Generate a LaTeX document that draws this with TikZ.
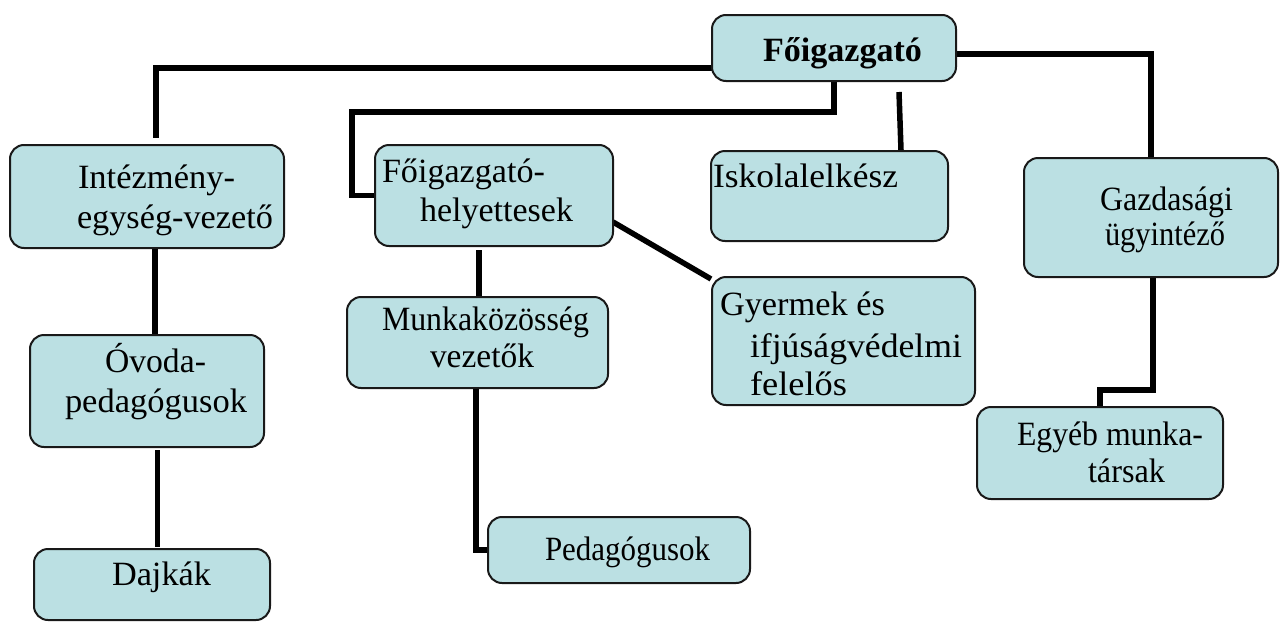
\documentclass[tikz,border=0pt]{standalone}
\usepackage{fontspec}
\setmainfont{Liberation Serif}
\usepackage{graphicx}
\usetikzlibrary{calc,backgrounds}
\definecolor{boxblue}{RGB}{187,224,227}
\newcommand{\tw}[2]{\resizebox{#1pt}{\height}{#2}}
\begin{document}
\begin{tikzpicture}[x=1pt,y=-1pt,
  box/.style={draw=black!90, line width=2pt, rounded corners=14pt, fill=boxblue,
    inner sep=0pt, outer sep=0pt, anchor=north west},
  txt/.style={anchor=base west, inner sep=0pt, outer sep=0pt, font=\fontsize{34}{40}\selectfont},
  conn/.style={line width=5.5pt, black}]
\useasboundingbox (0,0) rectangle (1280,624);
% boxes
\node[box, minimum width=244, minimum height=66]  (F) at (712,15) {};
\node[box, minimum width=274, minimum height=103] (I) at (10,145) {};
\node[box, minimum width=238, minimum height=101] (H) at (375,145) {};
\node[box, minimum width=237, minimum height=90]  (K) at (711,151) {};
\node[box, minimum width=254, minimum height=119] (G) at (1024,158) {};
\node[box, minimum width=261, minimum height=91]  (M) at (347,297) {};
\node[box, minimum width=263, minimum height=128] (Y) at (712,277) {};
\node[box, minimum width=246, minimum height=92]  (E) at (977,407) {};
\node[box, minimum width=234, minimum height=112] (O) at (30,335) {};
\node[box, minimum width=236, minimum height=71]  (D) at (34,549) {};
\node[box, minimum width=262, minimum height=66]  (P) at (488,517) {};
% texts
\node[txt] (tF)  at (763,61)   {\tw{159}{\bfseries Főigazgató}};
\node[txt] (tI1) at (78,188)   {\tw{157}{Intézmény-}};
\node[txt] (tI2) at (77,228)   {\tw{196}{egység-vezető}};
\node[txt] (tH1) at (382,182)  {\tw{163}{Főigazgató-}};
\node[txt] (tH2) at (420,221)  {\tw{153}{helyettesek}};
\node[txt] (tK)  at (713,187)  {\tw{185}{Iskolalelkész}};
\node[txt] (tG1) at (1100,210) {\tw{133}{Gazdasági}};
\node[txt] (tG2) at (1105,245) {\tw{120}{ügyintéző}};
\node[txt] (tM1) at (382,330)  {\tw{207}{Munkaközösség}};
\node[txt] (tM2) at (430,367)  {\tw{104}{vezetők}};
\node[txt] (tY1) at (720,315)  {\tw{165}{Gyermek és}};
\node[txt] (tY2) at (750,357)  {\tw{212}{ifjúságvédelmi}};
\node[txt] (tY3) at (750,395)  {\tw{97}{felelős}};
\node[txt] (tO1) at (105,372)  {\tw{101}{Óvoda-}};
\node[txt] (tO2) at (65,412)   {\tw{182}{pedagógusok}};
\node[txt] (tD)  at (112,585)  {\tw{99}{Dajkák}};
\node[txt] (tP)  at (545,560)  {\tw{165}{Pedagógusok}};
\node[txt] (tE1) at (1017,445) {\tw{186}{Egyéb munka-}};
\node[txt] (tE2) at (1088,482) {\tw{77}{társak}};
% connectors
\begin{scope}[on background layer]
\draw[conn] ($(F.south west)+(0,-13)$) -| ($(I.north west)+(146,-7)$);
\draw[conn] ($(F.south west)+(122,0)$) |- ($(H.north west)+(-23,-33)$) |- (H.west);
\draw[conn] ($(F.south west)+(187,11)$) -- ($(K.north west)+(190,-1)$);
\draw[conn] ($(F.north east)+(0,39)$) -| ($(G.north west)+(127,0)$);
\draw[conn] ($(G.south west)+(129,0)$) |- ($(E.north west)+(123,-17)$) -- ($(E.north west)+(123,0)$);
\draw[conn] ($(H.south east)+(0,-24)$) -- ($(Y.north west)+(-1,2)$);
\draw[conn] ($(H.south west)+(104,4)$) -- ($(M.north west)+(132,0)$);
\draw[conn] ($(M.south west)+(129,0)$) |- (P.west);
\draw[conn] ($(I.south west)+(145,0)$) -- ($(O.north west)+(125,0)$);
\draw[conn, line width=5pt] ($(O.south west)+(127,3)$) -- ($(D.north west)+(123,-2)$);
\end{scope}
\end{tikzpicture}
\end{document}
